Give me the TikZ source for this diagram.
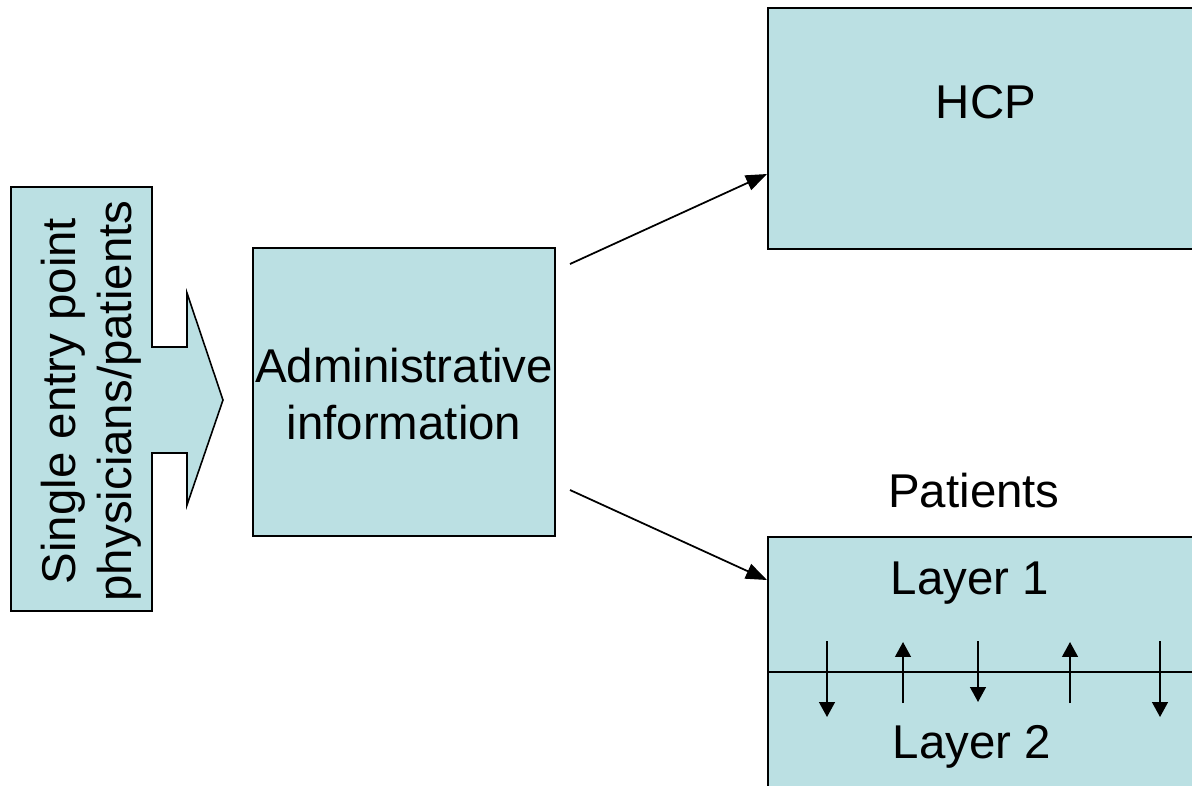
\documentclass[tikz,border=0pt]{standalone}
\usepackage{fontspec}
\setmainfont{Liberation Sans}
\usetikzlibrary{arrows.meta}
\definecolor{boxfill}{RGB}{187,224,227}
\tikzset{box/.style={draw=black,fill=boxfill,line width=0.9pt},
  lbl/.style={font=\fontsize{27}{32}\selectfont,align=center,inner sep=0pt},
  small/.style={line width=1pt,-{Triangle[length=8.5pt,width=9pt]}}}
\begin{document}
\begin{tikzpicture}[x=0.02cm,y=-0.02cm,>={Triangle[length=12pt,width=9pt]}]
		\useasboundingbox (0,0) rectangle (1192,785);
		\clip (0,0) rectangle (1192,785);
		% entry point arrow
		\draw[box] (11,187) -- (152,187) -- (152,347) -- (187,347) -- (187,293) -- (223,400)
			-- (187,505) -- (187,453) -- (152,453) -- (152,611) -- (11,611) -- cycle;
		\node[lbl,rotate=90] (entry) at (91,401) {Single entry point\\physicians/patients};
		% boxes
		\node[box,minimum width=6.04cm,minimum height=5.76cm] (admin) at (404,392) {};
		\node[lbl] (admintxt) at (404,394) {Administrative\\information};
		\node[box,minimum width=9cm,minimum height=4.82cm,anchor=north west] (hcp) at (767,7) {};
		\node[lbl,anchor=base] (hcptxt) at (986,118) {HCP};
		\node[lbl,anchor=base] (patients) at (974,507) {Patients};
		\node[box,minimum width=9cm,minimum height=6cm,anchor=north west] (layers) at (767,536) {};
		\node[lbl,anchor=base] (layer1) at (970,594) {Layer 1};
		\node[lbl,anchor=base] (layer2) at (972,758) {Layer 2};
		\draw[line width=1pt] (layers.west |- 0,672) -- (layers.east |- 0,672);
		% connectors
		\coordinate (outa) at (570,264);
		\coordinate (outb) at (570,490);
		\coordinate (hcpin) at (767,174);
		\coordinate (layin) at (767,580);
		\draw[->,line width=1pt] (outa) -- (hcpin);
		\draw[->,line width=1pt] (outb) -- (layin);
		\foreach \x/\a/\b in {827/641/717,903/703/642,978/641/702,1070/703/642,1160/641/717}
			\draw[small] (\x,\a) -- (\x,\b);
		\end{tikzpicture}
\end{document}
